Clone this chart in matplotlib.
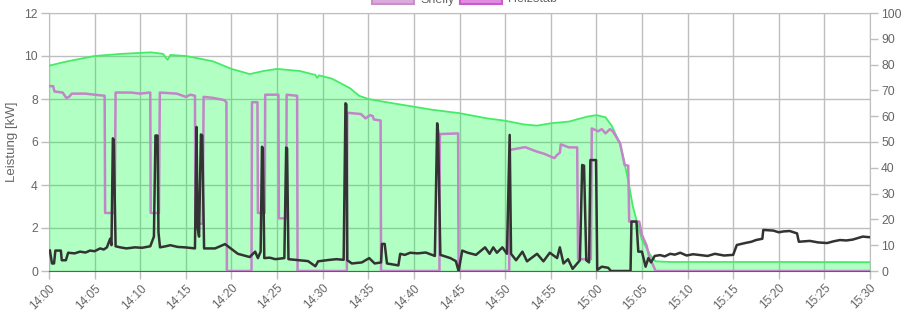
import numpy as np
import matplotlib.pyplot as plt
from matplotlib.patches import Rectangle

plt.rcParams['font.family'] = ['Liberation Sans', 'DejaVu Sans']

# minutes after 14:00
pv_t = [0, 2, 5, 8, 11.2, 12.5, 13.0, 13.3, 15, 16.5, 18, 20, 22, 23.5, 25, 27.5,
        29.2, 29.4, 29.6, 31, 33, 34, 35, 37, 40, 42, 45, 48, 50, 52, 53.5, 55,
        57, 59, 60, 61, 61.7, 62.6, 63.0, 63.5, 64.0, 65.0, 65.9, 66.5, 68, 80, 90]
pv_kw = [9.55, 9.75, 10.0, 10.1, 10.17, 10.1, 9.82, 10.05, 10.0, 9.88, 9.75, 9.4,
         9.16, 9.3, 9.4, 9.3, 9.12, 8.98, 9.1, 8.95, 8.5, 8.15, 8.0, 7.85, 7.64,
         7.5, 7.34, 7.1, 6.99, 6.82, 6.76, 6.87, 6.95, 7.18, 7.25, 7.15, 6.75,
         5.9, 5.2, 4.2, 3.0, 1.45, 0.75, 0.45, 0.42, 0.42, 0.41]

shelly_t = [0, 0.45, 0.6, 1.5, 1.9, 2.2, 2.5, 4, 5, 6.1, 6.15, 7.2, 7.3, 9, 10, 11.0,
            11.1, 11.15, 12.05, 12.15, 14, 15.0, 15.5, 16.0, 16.05, 16.85, 16.95,
            18, 19.2, 19.45, 19.5, 22.2, 22.25, 22.85, 22.9, 23.65, 23.7, 25.15,
            25.2, 26.0, 26.05, 27.2, 27.25, 32.65, 32.7, 34.2, 34.7, 35.2, 35.5,
            35.6, 36.35, 36.4, 42.8, 42.85, 44.85, 44.9, 50.45, 50.5, 51.4, 52.2,
            53.5, 54.3, 55.4, 55.7, 56.0, 56.1, 57.0, 57.9, 58.0, 59.4, 59.5,
            60.2, 60.6, 61.0, 61.5, 61.8, 62.6, 63.1, 63.5, 63.6, 64.7, 65.0,
            65.5, 65.8, 66.5, 90]
shelly_kw = [8.6, 8.6, 8.35, 8.3, 8.05, 8.1, 8.25, 8.25, 8.2, 8.15, 2.7, 2.7, 8.3,
             8.3, 8.25, 8.3, 8.3, 2.7, 2.7, 8.3, 8.25, 8.1, 8.2, 8.15, 2.2, 2.2,
             8.1, 8.05, 7.95, 7.85, 0, 0, 7.85, 7.85, 2.7, 2.7, 8.2, 8.2, 2.45,
             2.45, 8.2, 8.15, 0, 0, 7.36, 7.3, 7.1, 7.25, 7.2, 7.05, 7.0, 0, 0,
             6.37, 6.4, 0, 0, 5.63, 5.7, 5.76, 5.55, 5.45, 5.25, 5.4, 5.5, 5.89,
             5.75, 5.75, 0.55, 0.55, 6.63, 6.5, 6.6, 6.4, 6.6, 6.5, 5.95, 4.93,
             4.9, 2.3, 2.3, 1.67, 1.2, 0.67, 0.0, 0.0]

load_t = [0.1, 0.33, 0.55, 0.7, 1.3, 1.4, 1.85, 2.1, 2.8, 3.4, 4.0, 4.5, 5.0, 5.6,
          6.0, 6.35, 6.7, 6.85, 7.0, 7.1, 7.3, 7.8, 8.5, 9.4, 10.2, 11.1, 11.5,
          11.67, 11.9, 12.0, 12.17, 12.8, 13.3, 14.1, 14.9, 16.0, 16.17, 16.3,
          16.45, 16.65, 16.8, 17.0, 18.2, 19.3, 20.7, 22.0, 22.6, 22.9, 23.2,
          23.35, 23.45, 23.6, 24.2, 24.8, 25.8, 26.0, 26.1, 26.25, 27.5, 28.4,
          29.2, 29.5, 30.8, 31.5, 32.3, 32.5, 32.6, 32.7, 33.2, 34.3, 35.1,
          35.7, 36.4, 36.5, 36.8, 37.05, 38.3, 38.5, 39.0, 39.6, 40.4, 41.3,
          42.3, 42.55, 42.65, 42.9, 44.0, 44.6, 44.9, 45.3, 45.9, 46.8, 47.8,
          48.3, 48.7, 49.1, 49.7, 50.2, 50.5, 50.65, 51.2, 51.9, 52.4, 53.5,
          54.2, 54.9, 55.7, 56.0, 56.4, 56.9, 57.4, 58.2, 58.45, 58.65, 58.9,
          59.2, 59.35, 59.97, 60.1, 60.6, 61.3, 61.6, 63.75, 63.85, 64.4, 64.6,
          65.0, 65.4, 65.7, 66.0, 66.4, 67.0, 67.5, 68.1, 68.6, 69.2, 69.9,
          70.6, 71.4, 72.2, 73.0, 74.0, 75.0, 75.4, 76.3, 77.0, 77.5, 78.2, 78.3,
          79.4, 80.0, 80.5, 81.2, 82.0, 82.2, 83.4, 84.3, 85.3, 86.0, 86.7,
          87.4, 88.1, 89.2, 90.0]
load_kw = [0.95, 0.35, 0.35, 0.95, 0.95, 0.5, 0.5, 0.85, 0.82, 0.9, 0.86, 0.95,
           0.92, 1.05, 1.0, 1.1, 1.5, 1.2, 6.17, 6.1, 1.15, 1.1, 1.05, 1.1, 1.08,
           1.15, 1.6, 6.3, 6.3, 1.8, 1.1, 1.15, 1.2, 1.12, 1.1, 1.05, 6.7, 2.0,
           1.6, 6.35, 6.3, 1.05, 1.05, 1.25, 0.8, 0.65, 0.9, 0.6, 0.9, 5.78, 5.7,
           0.6, 0.62, 0.55, 0.6, 5.74, 5.7, 0.55, 0.5, 0.46, 0.22, 0.45, 0.52,
           0.55, 0.52, 7.8, 7.75, 0.5, 0.35, 0.4, 0.6, 0.35, 0.4, 1.26, 1.26,
           0.35, 0.26, 0.8, 0.75, 0.85, 0.82, 0.86, 0.7, 6.87, 6.5, 0.75, 0.6,
           0.46, 0.0, 0.95, 0.85, 0.75, 1.1, 0.8, 1.1, 0.85, 1.1, 0.8, 6.33, 0.8,
           0.5, 0.9, 0.45, 0.8, 0.45, 0.85, 0.6, 1.1, 0.35, 0.55, 0.1, 0.5, 4.93,
           4.9, 0.5, 0.4, 5.16, 5.16, 0.05, 0.2, 0.15, 0.0, 0.0, 2.3, 2.3, 0.9,
           0.9, 0.2, 0.6, 0.4, 0.7, 0.74, 0.68, 0.8, 0.76, 0.85, 0.72, 0.78, 0.74,
           0.7, 0.8, 0.72, 0.75, 1.21, 1.3, 1.36, 1.44, 1.5, 1.91, 1.88, 1.8,
           1.84, 1.86, 1.75, 1.36, 1.4, 1.33, 1.3, 1.38, 1.44, 1.42, 1.46, 1.6,
           1.57]

x_ticks = list(range(0, 91, 5))
x_labels = ['14:%02d' % m if m < 60 else '15:%02d' % (m - 60) for m in x_ticks]
legend_labels = ['Shelly', 'Heizstab']

grey = '#666666'
fig = plt.figure(figsize=(9.02, 3.12), dpi=100)
ax = fig.add_axes([49 / 902, 41 / 312, 821 / 902, 258 / 312])

ax.fill_between(pv_t, pv_kw, 0, color=(0, 1, 0.23), alpha=0.3, lw=0, zorder=3)
ax.plot(pv_t, pv_kw, color='#44ec66', lw=1.3, zorder=4)
ax.plot(shelly_t, shelly_kw, color='#c285c8', lw=1.8, zorder=5)
ax.plot(load_t, load_kw, color='#333333', lw=1.8, zorder=6)

ax.set_xlim(0, 90)
ax.set_ylim(0, 12)
ax.set_yticks(range(0, 13, 2))
ax.set_xticks(x_ticks)
ax.set_xticklabels(x_labels, rotation=45, ha='right', va='top', rotation_mode='anchor')
ax.grid(True, color='#bebebe', lw=1, zorder=0)
ax.set_axisbelow(True)
ax.tick_params(colors='#bebebe', labelcolor=grey, labelsize=8.7, length=6, width=1)
ax.tick_params(axis='x', pad=2, labelsize=8.5)
ax.tick_params(axis='y', pad=2)
for side in ['top', 'left', 'right']:
    ax.spines[side].set_color('#bebebe')
ax.spines['bottom'].set_color('#555555')
ax.set_ylabel('Leistung [kW]', color=grey, fontsize=9.5)
ax.yaxis.set_label_coords(-31 / 821, 0.5)

ax2 = ax.twinx()
ax2.set_ylim(0, 100)
ax2.set_yticks(range(0, 101, 10))
ax2.tick_params(colors='#bebebe', labelcolor=grey, labelsize=8.7, length=6, width=1, pad=2)
for s in ax2.spines.values():
    s.set_visible(False)

# legend, mostly cut off at the top edge like the original
faces = ['#dcaadc', '#e08ce0']
edges = ['#c890c8', '#cc5acc']
box_x = [372, 460]
for lab, fc, ec, bx in zip(legend_labels, faces, edges, box_x):
    fig.add_artist(Rectangle((bx / 902, 1 - 4 / 312), 42 / 902, 12 / 312,
                             transform=fig.transFigure, facecolor=fc,
                             edgecolor=ec, lw=1.5, clip_on=False))
    fig.text((bx + 48) / 902, 1 - 2.5 / 312, lab, color=grey, fontsize=9,
             ha='left', va='baseline')

fig.savefig('out.png', dpi=100)
